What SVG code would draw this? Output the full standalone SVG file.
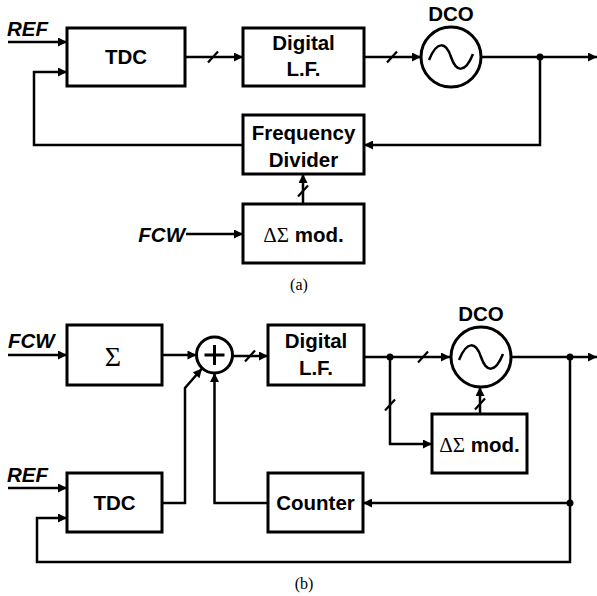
<svg xmlns="http://www.w3.org/2000/svg" width="597" height="596" viewBox="0 0 597 596">
<style>
.box{fill:#fff;stroke:#000;stroke-width:3}
.circ{fill:#fff;stroke:#000;stroke-width:3}
.w{fill:none;stroke:#000;stroke-width:2.5}
.sl{fill:none;stroke:#000;stroke-width:2.2}
.t{font-family:"Liberation Sans",Arial,sans-serif;font-weight:bold;font-size:20.5px;text-anchor:middle;fill:#000}
.lab{font-family:"Liberation Sans",Arial,sans-serif;font-weight:bold;font-style:italic;font-size:20.5px;fill:#000}
.s{font-family:"Liberation Serif","Times New Roman",serif;font-weight:normal;font-size:21px}
.big{font-family:"Liberation Serif","Times New Roman",serif;font-weight:normal;font-size:28px;text-anchor:middle;fill:#000}
.cap{font-family:"Liberation Serif","Times New Roman",serif;font-size:16px;text-anchor:middle;fill:#000}
</style>
<defs>
<marker id="ah" viewBox="0 0 10 10" refX="10" refY="5" markerWidth="10" markerHeight="9" markerUnits="userSpaceOnUse" orient="auto">
<path d="M0,0 L10,5 L0,10 z" fill="#000"/>
</marker>
</defs>

<g id="connectors">
<!-- (a) -->
<path class="w" d="M8,42 H67" marker-end="url(#ah)"/>
<path class="w" d="M243,145 H34 V72 H67" marker-end="url(#ah)"/>
<path class="w" d="M185,57 H243" marker-end="url(#ah)"/>
<path class="sl" d="M208,62.5 L218,51.5"/>
<path class="w" d="M364,57 H421" marker-end="url(#ah)"/>
<path class="sl" d="M387,62.5 L397,51.5"/>
<path class="w" d="M481,57 H597" marker-end="url(#ah)"/>
<circle cx="540" cy="57" r="3.5" fill="#000"/>
<path class="w" d="M540,57 V145 H364" marker-end="url(#ah)"/>
<path class="w" d="M303,204 V174" marker-end="url(#ah)"/>
<path class="sl" d="M298,196.5 L308,185.5"/>
<path class="w" d="M186,234 H243" marker-end="url(#ah)"/>
<!-- (b) -->
<path class="w" d="M8,355 H67" marker-end="url(#ah)"/>
<path class="w" d="M162,355 H196.5" marker-end="url(#ah)"/>
<path class="w" d="M232.5,356 H268" marker-end="url(#ah)"/>
<path class="sl" d="M245,361.5 L255,350.5"/>
<path class="w" d="M364,357 H450" marker-end="url(#ah)"/>
<path class="sl" d="M418,362.5 L428,351.5"/>
<circle cx="390" cy="357" r="3.5" fill="#000"/>
<path class="w" d="M390,357 V444 H432" marker-end="url(#ah)"/>
<path class="sl" d="M385,410.5 L395,399.5"/>
<path class="w" d="M480,414 V387" marker-end="url(#ah)"/>
<path class="sl" d="M475,409.5 L485,398.5"/>
<path class="w" d="M511,357 H597" marker-end="url(#ah)"/>
<circle cx="570" cy="357" r="3.5" fill="#000"/>
<path class="w" d="M570,357 V562 H37 V518 H67" marker-end="url(#ah)"/>
<circle cx="570" cy="503" r="3.5" fill="#000"/>
<path class="w" d="M570,503 H363" marker-end="url(#ah)"/>
<path class="w" d="M268,503 H214.5 V373" marker-end="url(#ah)"/>
<path class="w" d="M8,488 H67" marker-end="url(#ah)"/>
<path class="w" d="M162,503 H185 V388 L202,368.5" marker-end="url(#ah)"/>
</g>

<!-- (a) nodes -->
<g id="ref-a"><text class="lab" x="7" y="36">REF</text></g>
<g id="tdc-a"><rect class="box" x="67" y="28" width="118" height="58"/><text class="t" x="126" y="64">TDC</text></g>
<g id="dlf-a"><rect class="box" x="243" y="28" width="121" height="58"/><text class="t" x="303.5" y="50">Digital</text><text class="t" x="303.5" y="76">L.F.</text></g>
<g id="dco-a"><circle class="circ" cx="451" cy="57" r="30"/><path class="w" d="M429,60 C437,40 446,42 451,57 C456,72 465,74 473,54" stroke-width="3"/><text class="t" x="451" y="21">DCO</text></g>
<g id="div-a"><rect class="box" x="243" y="115" width="121" height="59"/><text class="t" x="303.5" y="140">Frequency</text><text class="t" x="303.5" y="167">Divider</text></g>
<g id="dsm-a"><rect class="box" x="243" y="204" width="121" height="59"/><text class="t" x="303.5" y="242"><tspan class="s">ΔΣ</tspan> mod.</text></g>
<g id="fcw-a"><text class="lab" x="185" y="242" text-anchor="end">FCW</text></g>
<g id="cap-a"><text class="cap" x="299" y="290">(a)</text></g>

<!-- (b) nodes -->
<g id="fcw-b"><text class="lab" x="8" y="348">FCW</text></g>
<g id="sigma-b"><rect class="box" x="67" y="325" width="95" height="60"/><text class="big" x="113" y="366">Σ</text></g>
<g id="adder-b"><circle class="circ" cx="214.5" cy="355" r="18"/><path d="M204.5,355 H224.5 M214.5,345 V365" stroke="#000" stroke-width="3" fill="none"/></g>
<g id="dlf-b"><rect class="box" x="268" y="325" width="96" height="60"/><text class="t" x="316" y="348">Digital</text><text class="t" x="316" y="375">L.F.</text></g>
<g id="dco-b"><circle class="circ" cx="481" cy="357" r="30"/><path class="w" d="M459,360 C467,340 476,342 481,357 C486,372 495,374 503,354" stroke-width="3"/><text class="t" x="481" y="321">DCO</text></g>
<g id="dsm-b"><rect class="box" x="432" y="414" width="95" height="59"/><text class="t" x="479.5" y="452"><tspan class="s">ΔΣ</tspan> mod.</text></g>
<g id="ref-b"><text class="lab" x="7" y="482">REF</text></g>
<g id="tdc-b"><rect class="box" x="67" y="473" width="95" height="59"/><text class="t" x="114.5" y="510">TDC</text></g>
<g id="counter-b"><rect class="box" x="268" y="473" width="95" height="59"/><text class="t" x="315.5" y="510">Counter</text></g>
<g id="cap-b"><text class="cap" x="304" y="589">(b)</text></g>
</svg>
